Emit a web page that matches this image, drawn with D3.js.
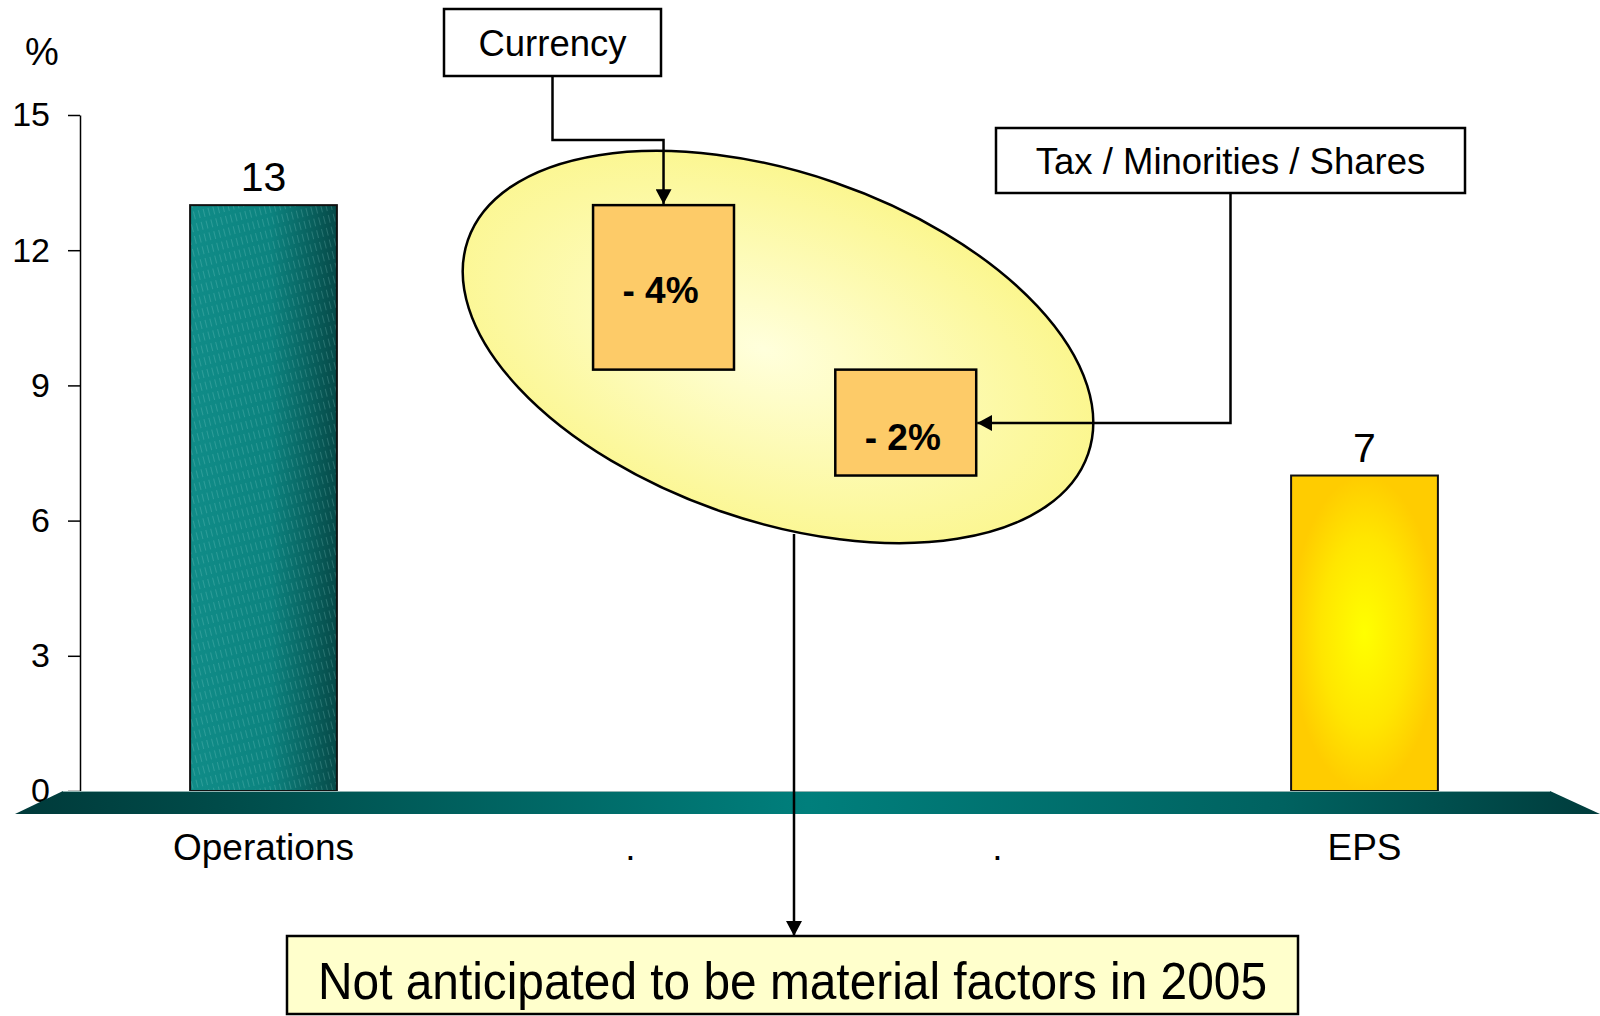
<!DOCTYPE html>
<html>
<head>
<meta charset="utf-8">
<script src="https://cdn.jsdelivr.net/npm/d3@7"></script>
<style>
body { margin: 0; background: #fff; }
svg { display: block; font-family: 'Liberation Sans', Arial, sans-serif; }
</style>
</head>
<body>
<div class="canvas"></div>
<script>
const categories = ['Operations', '.', '.', 'EPS']
const values = [13, null, null, 7]
const yTicks = [0, 3, 6, 9, 12, 15]

// waterfall steps between the two bars
const factorLabels = ['- 4%', '- 2%']
const factorSteps = [13, 9.35, 7]
const factorPos = [1.09, 1.75]

const calloutLabels = ['Currency', 'Tax / Minorities / Shares']
const noteText = 'Not anticipated to be material factors in 2005'

const dimensions = { width: 1600, height: 1016 }
const font = "'Liberation Sans', Arial, sans-serif"
const labelShift = [16, 27]

const svg = d3.select('.canvas')
    .append('svg')
    .attr('width', dimensions.width)
    .attr('height', dimensions.height)

const y = d3.scaleLinear().domain([0, 15]).range([791, 115])
const x = d3.scaleBand()
    .domain(d3.range(categories.length))
    .range([80, 1548])
    .paddingInner(0.6)
    .paddingOuter(0.3)
const xi = d3.scaleLinear()
    .domain([0, categories.length - 1])
    .range([x(0) + x.bandwidth() / 2, x(categories.length - 1) + x.bandwidth() / 2])

const defs = svg.append('defs')

// operations bar: teal, darker at right edge
const tealGrad = defs.append('linearGradient').attr('id', 'teal')
tealGrad.append('stop').attr('offset', '0').attr('stop-color', '#108c88')
tealGrad.append('stop').attr('offset', '0.55').attr('stop-color', '#0c837f')
tealGrad.append('stop').attr('offset', '1').attr('stop-color', '#064a48')

const stripes = defs.append('pattern')
    .attr('id', 'stripes')
    .attr('patternUnits', 'userSpaceOnUse')
    .attr('width', 5)
    .attr('height', 12)
    .attr('patternTransform', 'rotate(-14)')
stripes.append('line')
    .attr('x1', 1.5).attr('y1', 0).attr('x2', 1.5).attr('y2', 8)
    .attr('stroke', '#9ee0dc').attr('stroke-opacity', 0.22).attr('stroke-width', 1)

// eps bar: yellow centre, gold edges
const goldGrad = defs.append('radialGradient').attr('id', 'gold')
goldGrad.append('stop').attr('offset', '0').attr('stop-color', '#ffff00')
goldGrad.append('stop').attr('offset', '0.6').attr('stop-color', '#ffe600')
goldGrad.append('stop').attr('offset', '1').attr('stop-color', '#ffcc00')

const floorGrad = defs.append('linearGradient').attr('id', 'floor')
floorGrad.append('stop').attr('offset', '0').attr('stop-color', '#003a3a')
floorGrad.append('stop').attr('offset', '0.12').attr('stop-color', '#004a48')
floorGrad.append('stop').attr('offset', '0.5').attr('stop-color', '#007f7c')
floorGrad.append('stop').attr('offset', '0.8').attr('stop-color', '#006260')
floorGrad.append('stop').attr('offset', '1').attr('stop-color', '#003c3c')

const ovalGrad = defs.append('radialGradient').attr('id', 'oval')
    .attr('cx', '0.48').attr('cy', '0.52').attr('r', '0.55')
ovalGrad.append('stop').attr('offset', '0').attr('stop-color', '#ffffdc')
ovalGrad.append('stop').attr('offset', '1').attr('stop-color', '#fbf68c')

defs.append('marker')
    .attr('id', 'arrow')
    .attr('viewBox', '0 0 15 16')
    .attr('refX', 15)
    .attr('refY', 8)
    .attr('markerWidth', 15)
    .attr('markerHeight', 16)
    .attr('markerUnits', 'userSpaceOnUse')
    .attr('orient', 'auto')
    .append('path')
    .attr('d', 'M0,0 L15,8 L0,16 Z')
    .attr('fill', '#000')

//y axis

const yAxis = d3.axisLeft(y)
    .tickValues(yTicks)
    .tickSize(12)
    .tickSizeOuter(0)
    .tickPadding(18)

const axisG = svg.append('g')
    .attr('transform', `translate(${x.range()[0]}, 0)`)
    .call(yAxis)
    .attr('font-family', font)
    .attr('font-size', 34)

axisG.select('.domain').attr('stroke', '#000').attr('stroke-width', 1.5)
axisG.selectAll('.tick line').attr('stroke', '#000').attr('stroke-width', 1.5)
axisG.selectAll('.tick text').attr('fill', '#000')

svg.append('text')
    .attr('x', 42)
    .attr('y', 65)
    .attr('text-anchor', 'middle')
    .attr('font-size', 38)
    .text('%')

//oval behind the factor boxes

svg.append('ellipse')
    .attr('cx', 778)
    .attr('cy', 347)
    .attr('rx', 328)
    .attr('ry', 174)
    .attr('transform', 'rotate(19 778 347)')
    .attr('fill', 'url(#oval)')
    .attr('stroke', '#000')
    .attr('stroke-width', 2.5)

const boxW = x.step() * 0.384

const factors = factorLabels.map((label, i) => ({
    label,
    top: factorSteps[i],
    bottom: factorSteps[i + 1],
    cx: xi(factorPos[i]),
    shift: labelShift[i]
}))

const fg = svg.selectAll('.factor')
    .data(factors)
    .enter()
    .append('g')
    .attr('class', 'factor')

fg.append('rect')
    .attr('x', d => d.cx - boxW / 2)
    .attr('y', d => y(d.top))
    .attr('width', boxW)
    .attr('height', d => y(d.bottom) - y(d.top))
    .attr('fill', '#fdcb68')
    .attr('stroke', '#000')
    .attr('stroke-width', 2.5)

fg.append('text')
    .attr('x', d => d.cx - 3)
    .attr('y', d => (y(d.top) + y(d.bottom)) / 2 + d.shift)
    .attr('text-anchor', 'middle')
    .attr('font-weight', 'bold')
    .attr('font-size', 37)
    .text(d => d.label)

//callout boxes and connectors

const callouts = [
    { label: calloutLabels[0], x0: 444, x1: 661, y0: 9, y1: 76 },
    { label: calloutLabels[1], x0: 996, x1: 1465, y0: 128, y1: 193 }
]

svg.selectAll('.callout')
    .data(callouts)
    .enter()
    .append('rect')
    .attr('class', 'callout')
    .attr('x', d => d.x0)
    .attr('y', d => d.y0)
    .attr('width', d => d.x1 - d.x0)
    .attr('height', d => d.y1 - d.y0)
    .attr('fill', '#fff')
    .attr('stroke', '#000')
    .attr('stroke-width', 2.5)

svg.selectAll('.callout-label')
    .data(callouts)
    .enter()
    .append('text')
    .attr('class', 'callout-label')
    .attr('x', d => (d.x0 + d.x1) / 2)
    .attr('y', d => (d.y0 + d.y1) / 2 + 13)
    .attr('text-anchor', 'middle')
    .attr('font-size', 36.5)
    .text(d => d.label)

const c0 = callouts[0], c1 = callouts[1]
const f0 = factors[0], f1 = factors[1]
const line = d3.line()

svg.append('path')
    .attr('d', line([
        [(c0.x0 + c0.x1) / 2, c0.y1],
        [(c0.x0 + c0.x1) / 2, 140],
        [f0.cx, 140],
        [f0.cx, y(f0.top) - 1]
    ]))
    .attr('fill', 'none')
    .attr('stroke', '#000')
    .attr('stroke-width', 2.5)
    .attr('marker-end', 'url(#arrow)')

svg.append('path')
    .attr('d', line([
        [(c1.x0 + c1.x1) / 2, c1.y1],
        [(c1.x0 + c1.x1) / 2, 423],
        [f1.cx + boxW / 2 + 1, 423]
    ]))
    .attr('fill', 'none')
    .attr('stroke', '#000')
    .attr('stroke-width', 2.5)
    .attr('marker-end', 'url(#arrow)')

//bars

const bars = categories
    .map((c, i) => ({ c, i, v: values[i] }))
    .filter(d => d.v != null)

svg.selectAll('.bar')
    .data(bars)
    .enter()
    .append('rect')
    .attr('class', 'bar')
    .attr('x', d => x(d.i))
    .attr('y', d => y(d.v))
    .attr('width', x.bandwidth())
    .attr('height', d => y(0) - y(d.v))
    .attr('fill', d => d.i === 0 ? 'url(#teal)' : 'url(#gold)')

svg.selectAll('.bar-tex')
    .data(bars.filter(d => d.i === 0))
    .enter()
    .append('rect')
    .attr('x', d => x(d.i))
    .attr('y', d => y(d.v))
    .attr('width', x.bandwidth())
    .attr('height', d => y(0) - y(d.v))
    .attr('fill', 'url(#stripes)')

svg.selectAll('.bar-edge')
    .data(bars)
    .enter()
    .append('rect')
    .attr('x', d => x(d.i))
    .attr('y', d => y(d.v))
    .attr('width', x.bandwidth())
    .attr('height', d => y(0) - y(d.v))
    .attr('fill', 'none')
    .attr('stroke', '#111')
    .attr('stroke-width', 2)

svg.selectAll('.value')
    .data(bars)
    .enter()
    .append('text')
    .attr('x', d => x(d.i) + x.bandwidth() / 2)
    .attr('y', d => y(d.v) - 14)
    .attr('text-anchor', 'middle')
    .attr('font-size', 41)
    .text(d => d.v)

//floor

const [r0, r1] = x.range()
const base = y(0)
svg.append('path')
    .attr('d', `M${r0 - 17},${base} L${r1 + 2},${base} L${dimensions.width},${base + 23} L15,${base + 23} Z`)
    .attr('fill', 'url(#floor)')

svg.append('line')
    .attr('x1', r0 - 17).attr('x2', r1 + 2)
    .attr('y1', base + 0.5).attr('y2', base + 0.5)
    .attr('stroke', '#8fb3b1')
    .attr('stroke-width', 1)

svg.selectAll('.cat')
    .data(categories)
    .enter()
    .append('text')
    .attr('class', 'cat')
    .attr('x', (d, i) => x(i) + x.bandwidth() / 2)
    .attr('y', 860)
    .attr('text-anchor', 'middle')
    .attr('font-size', 37)
    .text(d => d)

//note box

const note = { x0: 287, x1: 1298, y0: 936, y1: 1014 }

svg.append('path')
    .attr('d', line([[794, 534], [794, note.y0]]))
    .attr('stroke', '#000')
    .attr('stroke-width', 2.5)
    .attr('marker-end', 'url(#arrow)')

svg.append('rect')
    .attr('x', note.x0)
    .attr('y', note.y0)
    .attr('width', note.x1 - note.x0)
    .attr('height', note.y1 - note.y0)
    .attr('fill', '#ffffcc')
    .attr('stroke', '#000')
    .attr('stroke-width', 2.5)

svg.append('text')
    .attr('x', (note.x0 + note.x1) / 2)
    .attr('y', 999)
    .attr('text-anchor', 'middle')
    .attr('font-size', 52)
    .attr('textLength', 949)
    .attr('lengthAdjust', 'spacingAndGlyphs')
    .text(noteText)
</script>
</body>
</html>
